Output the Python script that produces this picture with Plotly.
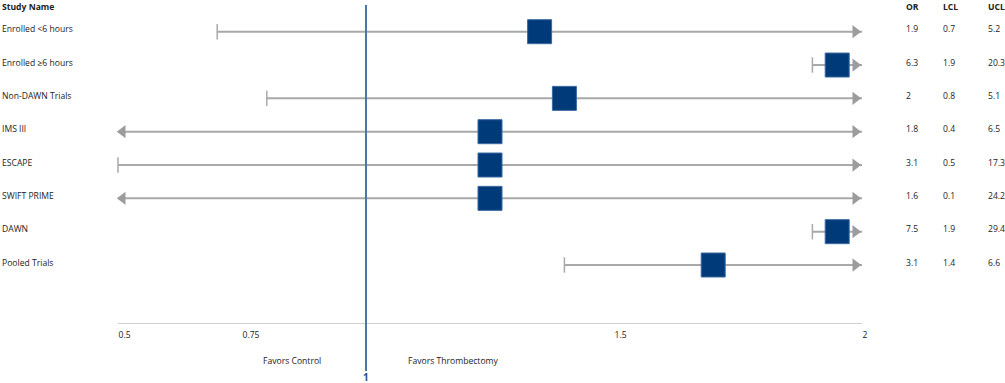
import plotly.graph_objects as go

# ---------------- data ----------------
studies = ["Enrolled <6 hours", "Enrolled \u22656 hours", "Non-DAWN Trials", "IMS III",
           "ESCAPE", "SWIFT PRIME", "DAWN", "Pooled Trials"]
or_text = ["1.9", "6.3", "2", "1.8", "3.1", "1.6", "7.5", "3.1"]
lcl = [0.7, 1.9, 0.8, 0.4, 0.5, 0.1, 1.9, 1.4]
ucl = [5.2, 20.3, 5.1, 6.5, 17.3, 24.2, 29.4, 6.6]
# plotted square positions as drawn in the reference chart
or_plot = [1.35, 1.95, 1.40, 1.25, 1.25, 1.25, 1.95, 1.70]
tick_vals = [0.5, 0.75, 1.5, 2]
tick_text = ["0.5", "0.75", "1.5", "2"]
ref_value = 1

# ---------------- layout constants ----------------
W, H = 1005, 383
X_LEFT_PX, X_RIGHT_PX = 118, 862
X_MIN, X_MAX = 0.5, 2.0
PX_PER_UNIT = (X_RIGHT_PX - X_LEFT_PX) / (X_MAX - X_MIN)
ROW0_PX, ROW_STEP = 31.7, 33.33
AXIS_PX = 323
FONT = "Open Sans"
FS = 8.6
TXT = "#222222"
GRAY = "#a9a9a9"
ARROW_SIZE = 11.5
tip_off = 1.155 * ARROW_SIZE / 2  # px from triangle center to tip

rows = list(range(len(studies)))

fig = go.Figure()

# CI lines
lx, ly = [], []
for i in rows:
    lx += [max(lcl[i], X_MIN), min(ucl[i], X_MAX), None]
    ly += [i, i, None]
fig.add_trace(go.Scatter(x=lx, y=ly, mode="lines", line=dict(color=GRAY, width=2),
                         hoverinfo="skip", showlegend=False))

# lower caps (LCL within axis)
cap_rows = [i for i in rows if lcl[i] >= X_MIN]
fig.add_trace(go.Scatter(x=[lcl[i] for i in cap_rows], y=cap_rows, mode="markers",
                         marker=dict(symbol="line-ns", size=11, line=dict(color=GRAY, width=1.5)),
                         cliponaxis=False, hoverinfo="skip", showlegend=False))

# left arrows (LCL below axis)
la_rows = [i for i in rows if lcl[i] < X_MIN]
fig.add_trace(go.Scatter(x=[X_MIN + (tip_off - 2) / PX_PER_UNIT for _ in la_rows], y=la_rows,
                         mode="markers",
                         marker=dict(symbol="triangle-left", size=ARROW_SIZE, color="#9c9c9c",
                                     line=dict(width=0)),
                         cliponaxis=False, hoverinfo="skip", showlegend=False))

# right arrows (UCL beyond axis)
ra_rows = [i for i in rows if ucl[i] > X_MAX]
fig.add_trace(go.Scatter(x=[X_MAX - tip_off / PX_PER_UNIT for _ in ra_rows], y=ra_rows,
                         mode="markers",
                         marker=dict(symbol="triangle-right", size=ARROW_SIZE, color="#9c9c9c",
                                     line=dict(width=0)),
                         cliponaxis=False, hoverinfo="skip", showlegend=False))

# point estimates
fig.add_trace(go.Scatter(x=or_plot, y=rows, mode="markers",
                         marker=dict(symbol="square", size=24, color="#003a78",
                                     line=dict(color="#3a68a0", width=1)),
                         cliponaxis=False, hoverinfo="skip", showlegend=False))

# reference line
fig.add_shape(type="line", xref="x", yref="paper", x0=ref_value, x1=ref_value,
              y0=1 - 371 / H, y1=1 - 5 / H, line=dict(color="#4a76a8", width=2), layer="above")

ann = []
def txt(text, xpx, ypx, anchor="left", bold=False, color=TXT, size=FS):
    ann.append(dict(text=f"<b>{text}</b>" if bold else text, xref="paper", yref="paper",
                    x=xpx / W, y=1 - ypx / H, xanchor=anchor, yanchor="middle",
                    showarrow=False, font=dict(family=FONT, size=size, color=color)))

# headers
txt("Study Name", 0, 7, bold=True)
txt("OR", 904, 7, bold=True)
txt("LCL", 941, 7, bold=True)
txt("UCL", 986, 7, bold=True)

for i in rows:
    ypx = ROW0_PX + ROW_STEP * i - 2.5
    txt(studies[i], 0, ypx)
    txt(or_text[i], 904, ypx)
    txt(f"{lcl[i]:g}", 941, ypx)
    txt(f"{ucl[i]:g}", 986, ypx)

txt("Favors Control", 323, 361, anchor="right")
txt("Favors Thrombectomy", 406, 361, anchor="left")
ann.append(dict(text=f"<b>{ref_value}</b>", xref="x", yref="paper", x=ref_value, y=1 - 377 / H,
                xanchor="center", yanchor="middle", showarrow=False,
                font=dict(family=FONT, size=10, color="#1f4e8c")))

y_top = -ROW0_PX / ROW_STEP
y_bot = (AXIS_PX - ROW0_PX) / ROW_STEP

fig.update_layout(
    width=W, height=H, margin=dict(l=0, r=0, t=0, b=0, autoexpand=False),
    paper_bgcolor="white", plot_bgcolor="white",
    showlegend=False, annotations=ann,
    xaxis=dict(domain=[X_LEFT_PX / W, X_RIGHT_PX / W], range=[X_MIN, X_MAX],
               showgrid=False, zeroline=False, showline=True, linecolor="#cfcfcf", linewidth=1,
               tickvals=tick_vals, ticktext=tick_text, ticks="",
               ticklabelposition="outside right", ticklabelstandoff=4,
               tickfont=dict(family=FONT, size=FS, color=TXT), fixedrange=True),
    yaxis=dict(domain=[(H - AXIS_PX) / H, 1], range=[y_bot, y_top], visible=False,
               fixedrange=True),
)

fig.write_html("out.html", config={"displayModeBar": False},
               post_script="document.body.style.margin='0';document.body.style.overflow='hidden';")
